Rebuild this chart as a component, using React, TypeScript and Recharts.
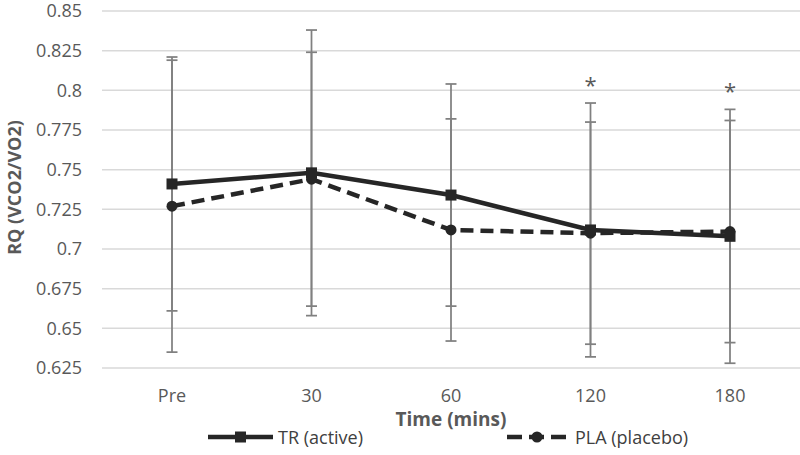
import { LineChart, Line, XAxis, YAxis, CartesianGrid, ErrorBar, LabelList, Legend, Label } from "recharts";

const timepoints = ["Pre", "30", "60", "120", "180"];
const trMean = [0.741, 0.748, 0.734, 0.712, 0.708];
const trSd = [0.08, 0.09, 0.07, 0.08, 0.08];
const plaMean = [0.727, 0.744, 0.712, 0.71, 0.711];
const plaSd = [0.092, 0.08, 0.07, 0.07, 0.07];
const significant = [false, false, false, true, true];
const yTicks = [0.625, 0.65, 0.675, 0.7, 0.725, 0.75, 0.775, 0.8, 0.825, 0.85];

const data = timepoints.map((t, i) => ({
  time: t,
  tr: trMean[i],
  trSd: trSd[i],
  pla: plaMean[i],
  plaSd: plaSd[i],
  sigTop: significant[i] ? Math.max(trMean[i] + trSd[i], plaMean[i] + plaSd[i]) : null,
  sig: significant[i] ? "*" : "",
}));

const INK = "#262626";
const GREY = "#595959";
const FONT = "'Open Sans', sans-serif";

const SquareDot = ({ cx, cy, index }: any) => {
  if (cx == null || cy == null) return null;
  return <rect key={`sq-${index}`} x={cx - 5.5} y={cy - 5.5} width={11} height={11} fill={INK} />;
};

const YTitle = ({ viewBox }: any) => {
  const cx = 14;
  const cy = viewBox.y + viewBox.height / 2 - 2;
  return (
    <text x={cx} y={cy} transform={`rotate(-90 ${cx} ${cy})`} textAnchor="middle" dominantBaseline="central"
      fill={GREY} fontSize={18} fontWeight={700} fontFamily={FONT}>
      RQ (VCO2/VO2)
    </text>
  );
};

const XTitle = ({ viewBox }: any) => (
  <text x={viewBox.x + viewBox.width / 2} y={viewBox.y + 58} textAnchor="middle"
    fill={GREY} fontSize={19} fontWeight={700} fontFamily={FONT}>
    Time (mins)
  </text>
);

const Star = ({ x, y, value }: any) => {
  if (!value || y == null) return null;
  return (
    <text x={x} y={y - 10} textAnchor="middle" fill={GREY} fontSize={22} fontFamily={FONT}>{value}</text>
  );
};

const LegendContent = () => (
  <div style={{ display: "flex", alignItems: "center", height: 28, paddingLeft: 208, fontFamily: FONT, fontSize: 18, color: "#404040" }}>
    <div style={{ display: "flex", alignItems: "center", width: 299 }}>
      <svg width={65} height={14}>
        <line x1={0} y1={7} x2={65} y2={7} stroke={INK} strokeWidth={4.5} />
        <rect x={27} y={1.5} width={11} height={11} fill={INK} />
      </svg>
      <span style={{ marginLeft: 5 }}>TR (active)</span>
    </div>
    <div style={{ display: "flex", alignItems: "center" }}>
      <svg width={60} height={14}>
        <line x1={0} y1={7} x2={60} y2={7} stroke={INK} strokeWidth={4.5} strokeDasharray="15 7" />
        <circle cx={30} cy={7} r={5.5} fill={INK} />
      </svg>
      <span style={{ marginLeft: 8 }}>PLA (placebo)</span>
    </div>
  </div>
);

export default function App() {
  return (
    <div style={{ width: 800, height: 455, background: "#fff", fontFamily: FONT }}>
      <style>{`body{margin:0}`}</style>
      <LineChart width={800} height={455} data={data} margin={{ top: 11, right: 0, bottom: 4, left: 0 }}>
        <CartesianGrid vertical={false} stroke="#d9d9d9" strokeWidth={1.5} />
        <XAxis dataKey="time" padding={{ left: 70, right: 70 }} axisLine={false} tickLine={false}
          tickSize={0} tickMargin={21} height={55}
          tick={{ fill: GREY, fontSize: 18, fontFamily: FONT }}>
          <Label content={<XTitle />} />
        </XAxis>
        <YAxis type="number" domain={[0.625, 0.85]} ticks={yTicks} interval={0} width={102}
          axisLine={false} tickLine={false} tickSize={0} tickMargin={20}
          tick={{ fill: GREY, fontSize: 18, fontFamily: FONT }}>
          <Label content={<YTitle />} />
        </YAxis>
        <Legend verticalAlign="bottom" content={<LegendContent />} wrapperStyle={{ left: 0, width: 800 }} />
        <Line dataKey="pla" name="PLA (placebo)" stroke={INK} strokeWidth={4.5} strokeDasharray="13 7"
          dot={{ r: 5.5, fill: INK, stroke: INK, strokeWidth: 0 }} activeDot={false} isAnimationActive={false}>
          <ErrorBar dataKey="plaSd" direction="y" width={5.5} stroke="#808080" strokeWidth={1.75} />
        </Line>
        <Line dataKey="tr" name="TR (active)" stroke={INK} strokeWidth={4.5}
          dot={<SquareDot />} activeDot={false} isAnimationActive={false}>
          <ErrorBar dataKey="trSd" direction="y" width={5.5} stroke="#808080" strokeWidth={1.75} />
        </Line>
        <Line dataKey="sigTop" stroke="none" dot={false} activeDot={false} legendType="none" isAnimationActive={false}>
          <LabelList dataKey="sig" content={<Star />} />
        </Line>
      </LineChart>
    </div>
  );
}
